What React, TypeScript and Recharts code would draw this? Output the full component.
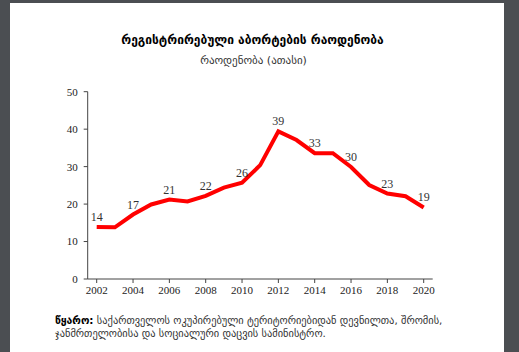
import React from "react";
import { LineChart, Line, XAxis, YAxis, LabelList } from "recharts";

const years = ["2002", "2003", "2004", "2005", "2006", "2007", "2008", "2009", "2010", "2011",
  "2012", "2013", "2014", "2015", "2016", "2017", "2018", "2019", "2020"];
const abortions = [13.9, 13.8, 17.2, 19.9, 21.2, 20.7, 22.2, 24.4, 25.7, 30.4,
  39.4, 37.1, 33.6, 33.6, 29.9, 25.1, 22.8, 22.1, 19.1];
const pointLabels = ["14", "", "17", "", "21", "", "22", "", "26", "",
  "39", "", "33", "", "30", "", "23", "", "19"];
const yTicks = [0, 10, 20, 30, 40, 50];

const title = "რეგისტრირებული აბორტების რაოდენობა";
const subtitle = "რაოდენობა (ათასი)";
const sourceHead = "წყარო:";
const sourceText = "საქართველოს ოკუპირებული ტერიტორიებიდან დევნილთა, შრომის,";
const sourceText2 = "ჯანმრთელობისა და სოციალური დაცვის სამინისტრო.";

const data = years.map((y, i) => ({ year: y, value: abortions[i], label: pointLabels[i] }));

const serif = "'Liberation Serif', 'DejaVu Serif', serif";
const georgian = "'DejaVu Sans', sans-serif";

const PointLabel = (props: any) => {
  const { x, y, value } = props;
  if (!value) return null;
  return (
    <text x={x} y={y - 6} textAnchor="middle" fontFamily={serif} fontSize={12} fill="#333">
      {value}
    </text>
  );
};

const App = () => {
  return (
    <div style={{ position: "absolute", left: 0, top: 0, width: 519, height: 352, background: "#4b4e52", overflow: "hidden" }}>
      <div style={{ position: "absolute", left: 10, top: 3, width: 494, height: 349, background: "#fff" }} />
      <div style={{ position: "absolute", left: 0, top: 33, width: 505, textAlign: "center", fontFamily: georgian, fontWeight: "bold", fontSize: 12, color: "#000" }}>
        {title}
      </div>
      <div style={{ position: "absolute", left: 0, top: 54, width: 507, textAlign: "center", fontFamily: georgian, fontSize: 11, color: "#333" }}>
        {subtitle}
      </div>
      <div style={{ position: "absolute", left: 0, top: 0 }}>
        <LineChart width={519} height={352} data={data}
          margin={{ top: 91.7, right: 86.3, bottom: 43, left: 57.7 }}>
          <XAxis dataKey="year" interval={1} padding={{ left: 9, right: 9 }}
            tickSize={4} tickMargin={3} height={30}
            axisLine={{ stroke: "#444" }} tickLine={{ stroke: "#444" }}
            tick={{ fontFamily: serif, fontSize: 11, fill: "#222" }} />
          <YAxis domain={[0, 50]} ticks={yTicks} width={30}
            tickSize={4} tickMargin={6}
            axisLine={{ stroke: "#444" }} tickLine={{ stroke: "#444" }}
            tick={{ fontFamily: serif, fontSize: 11, fill: "#222" }} />
          <Line dataKey="value" stroke="#ff0000" strokeWidth={4} dot={false}
            strokeLinejoin="miter" isAnimationActive={false}>
            <LabelList dataKey="label" content={PointLabel} />
          </Line>
        </LineChart>
      </div>
      <div style={{ position: "absolute", left: 55, top: 314, width: 450, fontFamily: georgian, fontSize: 10.4, lineHeight: "13px", color: "#333" }}>
        <b style={{ color: "#000" }}>{sourceHead}</b> {sourceText}<br />{sourceText2}
      </div>
    </div>
  );
};

export default App;
